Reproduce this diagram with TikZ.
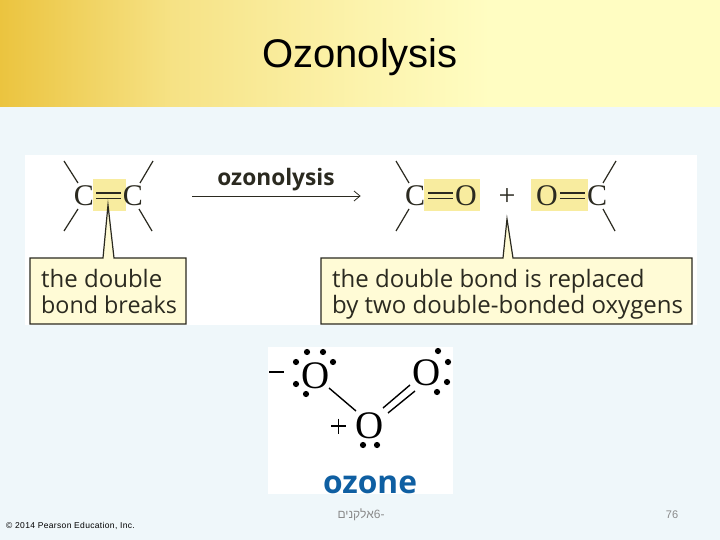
\documentclass[tikz,border=0pt]{standalone}
\usepackage{fontspec}
\setmainfont{Liberation Sans}
\newfontfamily\serifatom{Liberation Serif}
\newfontfamily\humanist{Open Sans}
\newfontfamily\hebfont[Script=Hebrew]{Liberation Sans}
\newfontfamily\footfont[LetterSpace=4]{Liberation Sans}
\TeXXeTstate=1
\definecolor{pagebg}{HTML}{EFF7FA}
\definecolor{hiyellow}{HTML}{F8EC9F}
\definecolor{boxyellow}{HTML}{FFFBD6}
\definecolor{inkdark}{HTML}{2B2A20}
\definecolor{ozoneblue}{HTML}{0F5FA2}
\definecolor{footgray}{HTML}{8A8A8A}
\definecolor{hA}{HTML}{EBC43F}
\definecolor{hB}{HTML}{F6E285}
\definecolor{hC}{HTML}{FCF3AC}
\definecolor{hD}{HTML}{FFFDC2}
\pgfdeclarehorizontalshading{headershade}{100bp}{color(0bp)=(hA); color(25bp)=(hA); color(37bp)=(hB); color(50bp)=(hC); color(59bp)=(hD); color(75bp)=(hD); color(100bp)=(hD)}
\tikzset{
  atom/.style={font=\serifatom\fontsize{30}{30}\selectfont, text=inkdark, inner sep=0pt, anchor=base},
  bigatom/.style={font=\serifatom\fontsize{39}{39}\selectfont, text=black, inner sep=0pt, anchor=base},
  bondline/.style={draw=inkdark, line width=1.2pt},
  ozbond/.style={draw=black, line width=1.4pt},
  hilite/.style={fill=hiyellow, draw=none},
  callout/.style={fill=boxyellow, draw=inkdark, line width=1.2pt, line join=miter},
  calltext/.style={font=\humanist\fontsize{24}{24}\selectfont, text=inkdark, inner sep=0pt, anchor=base west},
  lonepair/.style={fill=black, draw=none},
  foot/.style={text=footgray, inner sep=0pt, anchor=base}
}
\begin{document}
\begin{tikzpicture}[x=1pt,y=-1pt]
\useasboundingbox (0,0) rectangle (720,540);
\fill[pagebg] (0,0) rectangle (720,540);
\shade[shading=headershade] (0,0) rectangle (720,107);
\node[inner sep=0pt,anchor=base,font=\fontsize{40}{40}\selectfont] (title) at (360,68) {Ozonolysis};
% panels
\fill[white] (25,155) rectangle (697,325);
\fill[white] (268,347) rectangle (453,494);
% highlights
\fill[hilite] (93,179) rectangle (126,211);
\fill[hilite] (424,179) rectangle (480,211);
\fill[hilite] (531,179) rectangle (588,211);
% left molecule
\node[atom] (c1) at (84,206) {C};
\node[atom] (c2) at (133,206) {C};
\draw[bondline] (96,193) -- (121,193);
\draw[bondline] (96,198.5) -- (121,198.5);
\draw[bondline] (64,161) -- (78,183);
\draw[bondline] (153,161) -- (140,183);
\draw[bondline] (78,209) -- (64,231);
\draw[bondline] (139,209) -- (152,231);
% arrow
\coordinate (arrowstart) at (192,196);
\coordinate (arrowtip) at (360,196);
\draw[draw=inkdark, line width=0.8pt] (arrowstart) -- (arrowtip);
\draw[draw=inkdark, line width=0.8pt] (354,191) -- (arrowtip) -- (354,201);
\node[inner sep=0pt,anchor=base,text=inkdark,font=\humanist\bfseries\fontsize{22.7}{22.7}\selectfont] (arrowlabel) at (276,186) {ozonolysis};
% right molecule
\node[atom] (c3) at (415,206) {C};
\node[atom] (o1) at (466,206) {O};
\node[atom] (plus) at (507,206) {+};
\node[atom] (o2) at (547,206) {O};
\node[atom] (c4) at (597,206) {C};
\draw[bondline] (428,193) -- (453,193);
\draw[bondline] (428,198.5) -- (453,198.5);
\draw[bondline] (560,193) -- (585,193);
\draw[bondline] (560,198.5) -- (585,198.5);
\draw[bondline] (396,161) -- (409,183);
\draw[bondline] (409,209) -- (396,231);
\draw[bondline] (616,161) -- (603,183);
\draw[bondline] (603,209) -- (615,231);
% callouts
\draw[callout] (30,258) -- (103,258) -- (108,205) -- (114,258) -- (186,258) -- (186,324) -- (30,324) -- cycle;
\draw[callout] (321,258) -- (503,258) -- (507,219) -- (513,258) -- (692,258) -- (692,324) -- (321,324) -- cycle;
\node[calltext] (t1) at (41,287) {the double};
\node[calltext,font=\humanist\fontsize{23.3}{23.3}\selectfont] (t2) at (41,313) {bond breaks};
\node[calltext] (t3) at (332,287) {the double bond is replaced};
\node[calltext] (t4) at (332,313) {by two double-bonded oxygens};
% ozone
\node[bigatom] (oa) at (316,388) {O};
\node[bigatom] (ob) at (427,385) {O};
\node[bigatom] (oc) at (370,438) {O};
\draw[ozbond] (329,388) -- (356,411);
\draw[ozbond] (383,408) -- (410,385);
\draw[ozbond] (388,413) -- (415,391);
\draw[ozbond] (269,372) -- (284,372);
\draw[ozbond] (331,426) -- (346,426);
\draw[ozbond] (338.5,418.5) -- (338.5,433.5);
\foreach \px/\py in {307/352,323/352,296/362,333/362,296/384,306/394,438/351,448/362,447/382,437/392,363/445,377/445}
  \fill[lonepair] (\px,\py) circle (3.1pt);
\node[inner sep=0pt,anchor=base,text=ozoneblue,font=\humanist\bfseries\fontsize{31.7}{31.7}\selectfont] (ozone) at (370,493) {ozone};
% footer
\node[inner sep=0pt,anchor=base west,text=black,font=\footfont\fontsize{8.5}{8.5}\selectfont] (copy) at (6,528) {© 2014 Pearson Education, Inc.};
\node[foot,font=\hebfont\fontsize{12}{12}\selectfont] (chap) at (361,518) {\beginR-6אלקנים\endR};
\node[foot,font=\fontsize{11}{11}\selectfont] (num) at (672,518) {76};
\end{tikzpicture}
\end{document}
